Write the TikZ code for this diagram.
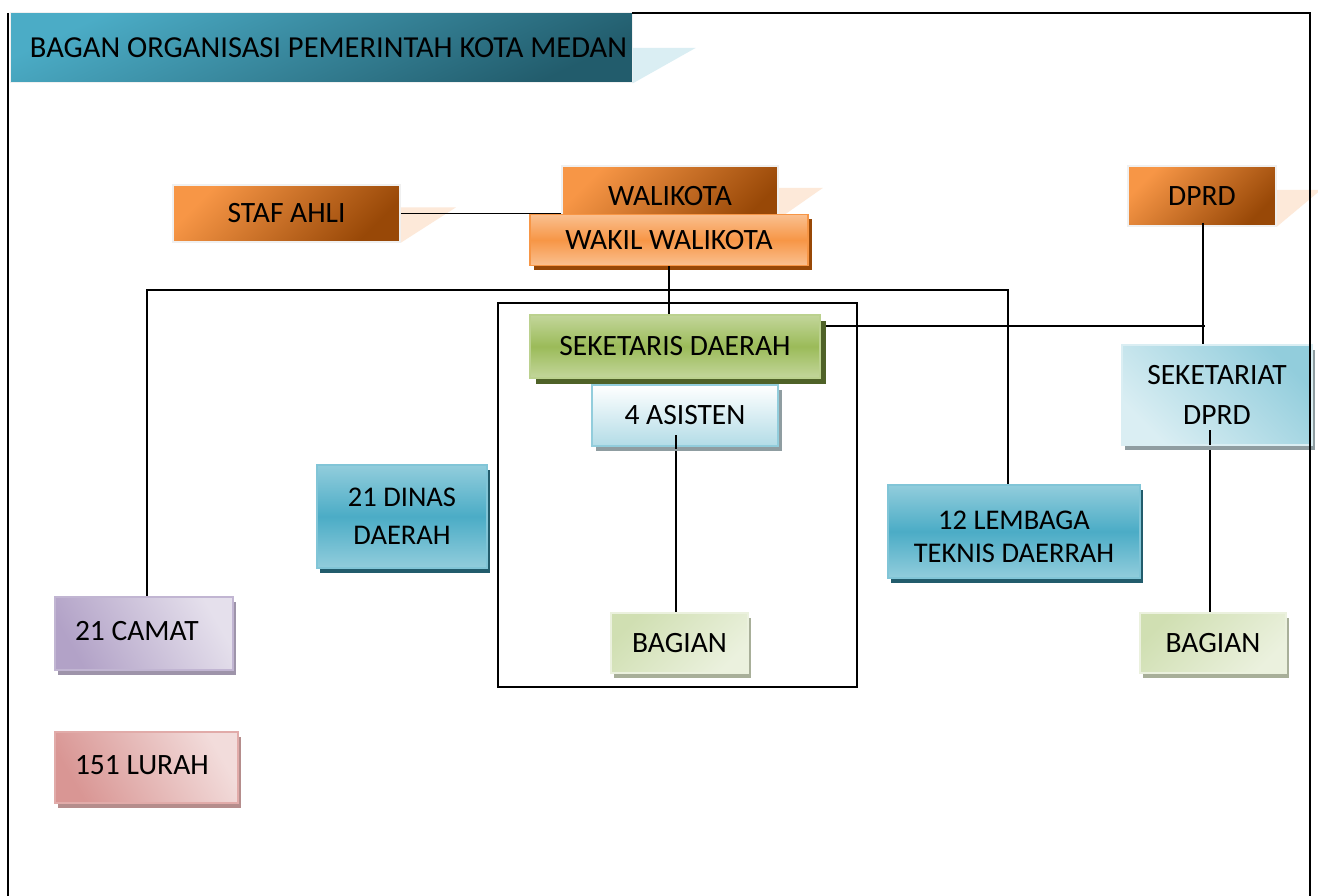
\documentclass[tikz,border=0pt]{standalone}
\usepackage{fontspec}
\setmainfont{Carlito}
\usetikzlibrary{shadows}
\definecolor{tealA}{HTML}{4BACC6}
\definecolor{tealB}{HTML}{225C6C}
\definecolor{tealL}{HTML}{92CDDC}
\definecolor{tealXL}{HTML}{DAEEF3}
\definecolor{orA}{HTML}{F79646}
\definecolor{orB}{HTML}{984807}
\definecolor{orL}{HTML}{FAC090}
\definecolor{peach}{HTML}{FDE9D9}
\definecolor{grA}{HTML}{9BBB59}
\definecolor{grL}{HTML}{C3D69B}
\definecolor{grD}{HTML}{4F6228}
\definecolor{grXL}{HTML}{EBF1DE}
\definecolor{grM}{HTML}{D0DFB2}
\definecolor{lavA}{HTML}{B2A2C7}
\definecolor{lavL}{HTML}{E5E0EC}
\definecolor{pinkA}{HTML}{D99694}
\definecolor{pinkL}{HTML}{F2DCDB}
\begin{document}
\begin{tikzpicture}[x=1pt,y=-1pt,
  box/.style={rectangle, inner sep=0pt, align=center, text=black,
    font=\fontsize{29.5}{36}\selectfont},
  orbox/.style={box, top color=orA, bottom color=orB, shading angle=45,
    draw=white!94!black, line width=1.5pt},
  wakilbox/.style={box, top color=orL, bottom color=orL, middle color=orA,
    draw=orA, line width=1.5pt,
    drop shadow={shadow xshift=4pt, shadow yshift=-5pt, opacity=1, fill=orB}},
  greenbox/.style={box, top color=grL, bottom color=grL, middle color=grA,
    draw=grL!80!grA, line width=1.5pt,
    drop shadow={shadow xshift=6pt, shadow yshift=-6pt, opacity=1, fill=grD}},
  paleblue/.style={box, top color=white, bottom color=tealL!70!white,
    draw=tealL, line width=1.5pt,
    drop shadow={shadow xshift=4pt, shadow yshift=-5pt, opacity=1, fill=tealB!35!gray!70!white}},
  tealbox/.style={box, top color=tealL, bottom color=tealL, middle color=tealA,
    draw=tealA!70!white, line width=1.5pt,
    drop shadow={shadow xshift=3pt, shadow yshift=-5pt, opacity=1, fill=tealB}},
  setbox/.style={box, top color=tealXL, bottom color=tealL, shading angle=135,
    draw=tealXL, line width=1.5pt,
    drop shadow={shadow xshift=3pt, shadow yshift=-5pt, opacity=1, fill=tealB!35!gray!70!white}},
  camatbox/.style={box, top color=lavL, bottom color=lavA, shading angle=-60,
    draw=lavA!80!white, line width=1.5pt,
    drop shadow={shadow xshift=3pt, shadow yshift=-5pt, opacity=1, fill=lavA!60!gray}},
  lurahbox/.style={box, top color=pinkL, bottom color=pinkA, shading angle=-60,
    draw=pinkA!80!white, line width=1.5pt,
    drop shadow={shadow xshift=3pt, shadow yshift=-5pt, opacity=1, fill=pinkA!60!gray}},
  bagbox/.style={box, top color=grXL, bottom color=grM, shading angle=-135,
    draw=grXL, line width=1.5pt,
    drop shadow={shadow xshift=3pt, shadow yshift=-5pt, opacity=1, fill=grM!50!gray}},
  conn/.style={line width=1.6pt, black},
  frame/.style={line width=2pt, black}]
\useasboundingbox (0,0) rectangle (1318,896);
\fill[white] (0,0) rectangle (1318,896);

% banner
\node[box, minimum width=622pt, minimum height=70pt, font=\fontsize{30.5}{36}\selectfont,
  top color=tealA, bottom color=tealB, shading angle=25,
  draw=white!94!black, line width=1pt] (banner) at (321,48)
  {\makebox[582pt][l]{BAGAN ORGANISASI PEMERINTAH KOTA MEDAN}};
\fill[tealXL] (banner.east) -- ++(63,0) -- (banner.south east) -- cycle;

% top row
\node[orbox, minimum width=227pt, minimum height=57pt] (staf) at (286.5,213.5) {STAF AHLI};
\fill[peach] ([yshift=6pt]staf.east) -- ++(55,0) -- (staf.south east) -- cycle;
\draw[conn] (staf.east) -- (staf.east -| 562,0);

\node[orbox, minimum width=216pt, minimum height=60pt] (wali) at (670,196) {WALIKOTA};
\fill[peach] ([yshift=8pt]wali.east) -- ++(44,0) -- ([yshift=8pt]wali.south east) -- cycle;
\node[wakilbox, minimum width=278pt, minimum height=51pt] (wakil) at (669,240) {WAKIL WALIKOTA};

\node[orbox, minimum width=148pt, minimum height=60pt] (dprd) at (1202,196) {DPRD};
\fill[peach] ([yshift=6pt]dprd.east) -- ++(44,0) -- (dprd.south east) -- cycle;

% connectors (behind boxes)
\coordinate (hl) at (147,290);
\coordinate (hr) at (1008,290);
\coordinate (jn) at (1205,326);
\draw[conn] (wakil.south) -- (wakil.south |- 0,315);
\draw[conn] (147,597) -- (hl) -- (hr) -- (1008,485);
\draw[conn] ([yshift=4pt]dprd.south -| 1203,0) -- (1203,345);
\draw[conn] (820,326) -- (jn);
\draw[conn] (676,435) -- (676,613);
\draw[conn] (1210,430) -- (1210,613);

% group rectangle
\draw[line width=1.6pt] (498,303) rectangle (857,687);

% middle
\node[greenbox, minimum width=290pt, minimum height=63pt] (sek) at (675,346.5) {SEKETARIS DAERAH};
\node[paleblue, minimum width=186pt, minimum height=61pt] (asisten) at (685,415.5) {4 ASISTEN};
\node[setbox, minimum width=190pt, minimum height=100pt,
  font=\fontsize{29.5}{40}\selectfont] (setdprd) at (1217,395) {SEKETARIAT\\DPRD};
\node[tealbox, minimum width=170pt, minimum height=103pt,
  font=\fontsize{28.5}{38}\selectfont] (dinas) at (402,516.5) {21 DINAS\\DAERAH};
\node[tealbox, minimum width=252pt, minimum height=93pt,
  font=\fontsize{28.5}{33}\selectfont] (lembaga) at (1014,531.5) {\\[-4pt]12 LEMBAGA\\TEKNIS DAERRAH};

% connector pieces drawn over boxes
\draw[conn] ([yshift=-2pt]asisten.south -| 676,0) -- (676,435);
\draw[conn] (1210,445) -- (1210,430);
\draw[conn] (dprd.south -| 1203,0) -- ([yshift=4pt]dprd.south -| 1203,0);

% lower
\node[camatbox, minimum width=178pt, minimum height=73pt] (camat) at (144,633.5)
  {\raisebox{6pt}{\makebox[138pt][l]{21 CAMAT}}};
\node[lurahbox, minimum width=183pt, minimum height=71pt] (lurah) at (146.5,767.5)
  {\raisebox{4pt}{\makebox[143pt][l]{151 LURAH}}};
\node[bagbox, minimum width=137pt, minimum height=60pt] (bag1) at (679.5,643) {BAGIAN};
\node[bagbox, minimum width=146pt, minimum height=60pt] (bag2) at (1213,643) {BAGIAN};

% frame
\draw[frame] (8,13) -- (8,896);
\draw[frame] (632,13) -- (1310,13) -- (1310,896);
\end{tikzpicture}
\end{document}
